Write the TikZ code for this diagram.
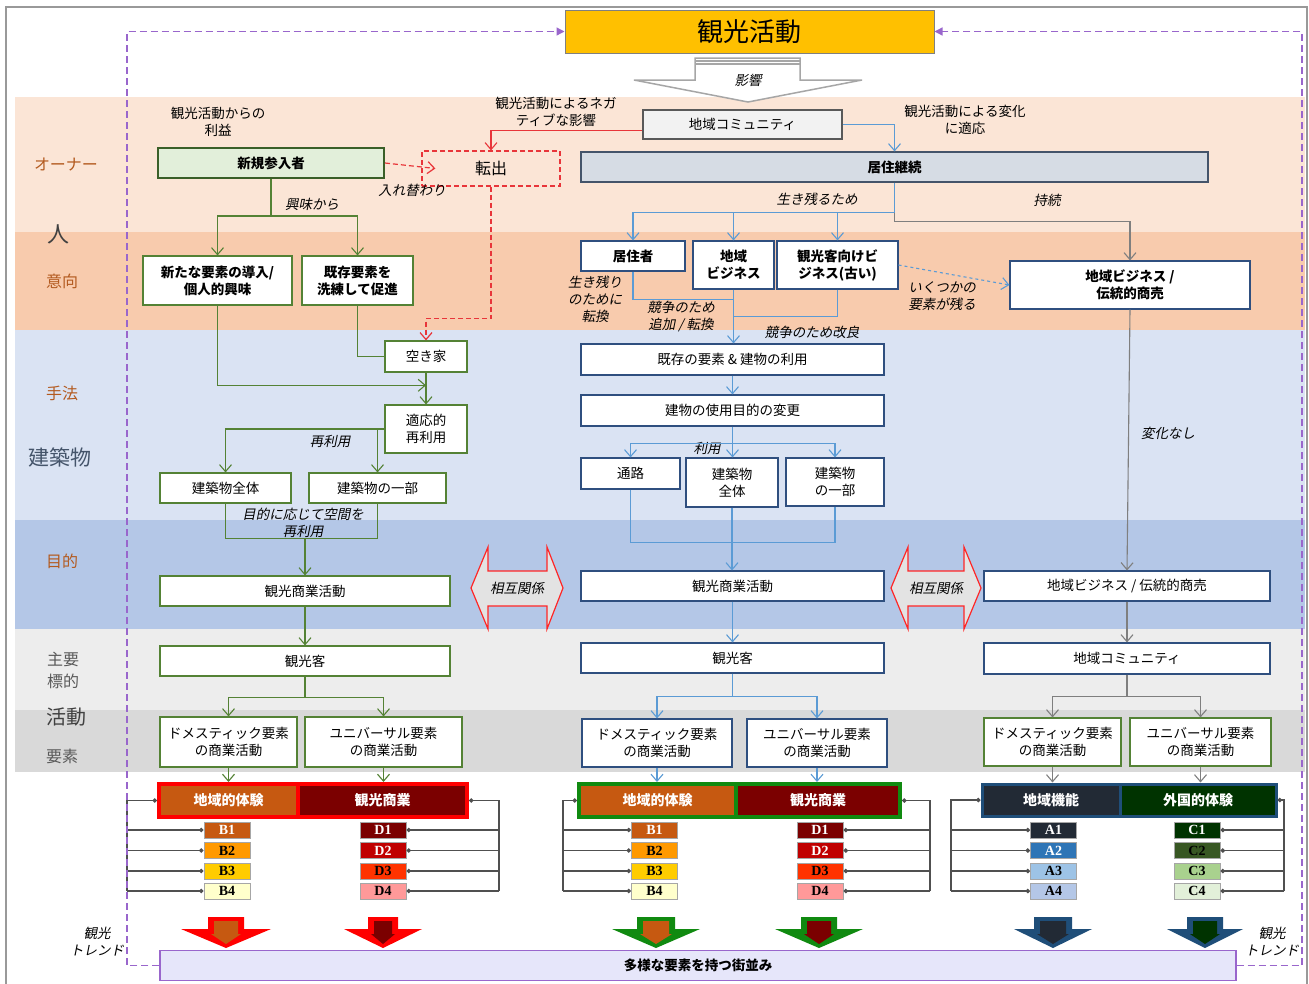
\documentclass[tikz,border=0pt]{standalone}
\usepackage{fontspec}
\setmainfont{Noto Sans CJK JP}
\newfontfamily\jpit[FakeSlant=0.2]{Noto Sans CJK JP}
\newfontfamily\lserif{Liberation Serif}
\usetikzlibrary{arrows.meta,calc}
\definecolor{cgreen}{HTML}{548235}
\definecolor{cdgreen}{HTML}{3A5F28}
\definecolor{cLgreen}{HTML}{E2EFDA}
\definecolor{cnavy}{HTML}{2F4F7F}
\definecolor{cslate}{HTML}{44546A}
\definecolor{cPale}{HTML}{D6DCE4}
\definecolor{cblue}{HTML}{5B9BD5}
\definecolor{cgray}{HTML}{7F7F7F}
\definecolor{cdgray}{HTML}{595959}
\definecolor{cdk}{HTML}{505050}
\definecolor{cred}{HTML}{E8353A}
\definecolor{cpurp}{HTML}{9966CC}
\definecolor{cgold}{HTML}{FFC000}
\definecolor{clav}{HTML}{E6E6FA}
\definecolor{cbrown}{HTML}{B35A1F}
\definecolor{cdark}{HTML}{404040}
\definecolor{bOwner}{HTML}{FBE5D6}
\definecolor{bIntent}{HTML}{F8CBAD}
\definecolor{bMethod}{HTML}{DAE3F3}
\definecolor{bPurpose}{HTML}{B4C7E7}
\definecolor{bTarget}{HTML}{EDEDED}
\definecolor{bAct}{HTML}{D9D9D9}
\definecolor{cB1}{HTML}{C65911}
\definecolor{cB2}{HTML}{FF9900}
\definecolor{cB3}{HTML}{FFCC00}
\definecolor{cB4}{HTML}{FFFFCC}
\definecolor{cD1}{HTML}{7B0000}
\definecolor{cD2}{HTML}{C00000}
\definecolor{cD3}{HTML}{FF3300}
\definecolor{cD4}{HTML}{FF9999}
\definecolor{cA1}{HTML}{222A35}
\definecolor{cA2}{HTML}{2E75B6}
\definecolor{cA3}{HTML}{9DC3E6}
\definecolor{cA4}{HTML}{B4C7E7}
\definecolor{cC1}{HTML}{003300}
\definecolor{cC2}{HTML}{385723}
\definecolor{cC3}{HTML}{A9D18E}
\definecolor{cC4}{HTML}{E2F0D9}
\definecolor{cMgreen}{HTML}{108A10}
\definecolor{cRblue}{HTML}{1F4E79}
\newcommand\bigarr[5]{%
  \fill[#2] (#1-#5,917) -- (#1+#5,917) -- (#1+#5,929) -- (#1+#4,929) -- (#1,948) -- (#1-#4,929) -- (#1-#5,929) -- cycle;
  \fill[#3] (#1-#5+6,921) -- (#1+#5-6,921) -- (#1+#5-6,934) -- (#1+#5-3,934) -- (#1,944) -- (#1-#5+3,934) -- (#1-#5+6,934) -- cycle;}
\begin{document}
\begin{tikzpicture}[x=1pt,y=-1pt,
  wh/.style 2 args={minimum width=#1pt, minimum height=#2pt},
  bx/.style={draw, fill=white, align=center, inner sep=0pt, line width=1.1pt, font=\fontsize{13.5}{17}\selectfont},
  gb/.style={bx, draw=cgreen},
  nb/.style={bx, draw=cnavy},
  bb/.style={font=\bfseries\fontsize{13.5}{17}\selectfont},
  lab/.style={align=center, inner sep=0pt, font=\fontsize{13.5}{17}\selectfont},
  itl/.style={align=center, inner sep=0pt, font=\jpit\fontsize{13.5}{17}\selectfont},
  side/.style={align=center, inner sep=0pt, font=\fontsize{16}{22}\selectfont},
  ar/.style={-{Straight Barb[length=7pt,width=12pt]}},
  gl/.style={draw=cgreen, line width=1.1pt},
  bl/.style={draw=cblue, line width=1.1pt},
  kl/.style={draw=cgray, line width=1.1pt},
  rl/.style={draw=cred, line width=1.1pt},
  rd/.style={draw=cred, line width=1.2pt, dash pattern=on 5pt off 3pt},
  pd/.style={draw=cpurp, line width=1.3pt, dash pattern=on 7pt off 4pt},
  lbx/.style={draw=gray!70, line width=1pt, minimum width=46pt, minimum height=16pt, inner sep=0pt, font=\lserif\bfseries\fontsize{14}{14}\selectfont},
  brk/.style={draw=cdk, line width=1.1pt},
  hd/.style={inner sep=0pt, line width=4pt, text=white, font=\bfseries\fontsize{14}{14}\selectfont},
  mut/.style={draw=red!85, fill=gray!22, line width=1.2pt}
]
\useasboundingbox (0,0) rectangle (1309,983);
\fill[white] (0,0) rectangle (1309,983);
% bands
\fill[bOwner] (15,97) rectangle (1305,232);
\fill[bIntent] (15,232) rectangle (1305,330);
\fill[bMethod] (15,330) rectangle (1305,520);
\fill[bPurpose] (15,520) rectangle (1305,629);
\fill[bTarget] (15,629) rectangle (1305,710);
\fill[bAct] (15,710) rectangle (1305,772);
\draw[gray!80, line width=1.5pt] (6,995) -- (6,7) -- (1307,7) -- (1307,995);

% side labels
\node[side, text=cbrown] (sOwner) at (66,165) {オーナー};
\node[side, text=cdark, font=\fontsize{22}{22}\selectfont] (sPerson) at (58,234) {人};
\node[side, text=cbrown] (sIntent) at (62,281) {意向};
\node[side, text=cbrown] (sMethod) at (62,393) {手法};
\node[side, text=cslate, font=\fontsize{21}{21}\selectfont] (sBuild) at (60,457) {建築物};
\node[side, text=cbrown] (sPurp) at (62,561) {目的};
\node[side, text=cdgray] (sTarget) at (63,670) {主要\\標的};
\node[side, text=cdark, font=\fontsize{20}{20}\selectfont] (sAct) at (66,717) {活動};
\node[side, text=cdgray] (sElem) at (62,756) {要素};

% title and influence arrow
\node[draw=gray, fill=cgold, wh={369}{43}, line width=1pt, font=\fontsize{26}{26}\selectfont, inner sep=0pt] (title) at (749.5,31.5) {観光活動};
\draw[fill=white, draw=gray!70, line width=1.5pt] (695,58) -- (800,58) -- (800,80) -- (862,80) -- (748,102) -- (634,80) -- (695,80) -- cycle;
\draw[gray!70, line width=1.5pt] (695,61) -- (800,61) (695,64) -- (800,64);
\node[itl] (eikyo) at (748,80) {影響};

% owner row
\node[lab] (lBenefit) at (218,122) {観光活動からの\\利益};
\node[bx, bb, fill=cLgreen, draw=cdgreen, line width=2pt, wh={226}{30}] (xin) at (271,163) {新規参入者};
\node[lab, wh={138}{35}, draw=cred, line width=1.2pt, dash pattern=on 5pt off 3pt, font=\fontsize{16}{16}\selectfont] (zhuan) at (491,168.5) {転出};
\node[lab] (lNeg) at (556,112) {観光活動によるネガ\\ティブな影響};
\node[bx, draw=cdgray, fill=gray!10, wh={199}{29}] (comm) at (742.5,124.5) {地域コミュニティ};
\node[lab] (lAdapt) at (965,120) {観光活動による変化\\に適応};
\node[bx, bb, draw=cslate, fill=cPale, wh={627}{30}] (cont) at (894.5,167) {居住継続};
\node[itl] (lSwap) at (412,190) {入れ替わり};
\node[itl] (lInterest) at (312,204) {興味から};
\node[itl] (lSurvive) at (817,199) {生き残るため};
\node[itl] (lSustain) at (1047,200) {持続};

% intention row
\node[gb, bb, wh={149}{49}] (n1) at (217.5,280.5) {新たな要素の導入/\\個人的興味};
\node[gb, bb, wh={111}{49}] (n2) at (357.5,280.5) {既存要素を\\洗練して促進};
\node[nb, bb, wh={104}{30}] (r1) at (633,256) {居住者};
\node[nb, bb, wh={81}{48}] (r2) at (733.5,265) {地域\\ビジネス};
\node[nb, bb, wh={121}{48}] (r3) at (837.5,265) {観光客向けビ\\ジネス(古い)};
\node[nb, bb, wh={240}{48}] (r4) at (1130,285) {地域ビジネス /\\伝統的商売};
\node[itl] (lConv) at (595,299) {生き残り\\のために\\転換};
\node[itl] (lComp) at (681,317) {競争のため\\追加 / 転換};
\node[itl] (lImprove) at (812,332) {競争のため改良};
\node[itl] (lRemain) at (942,296) {いくつかの\\要素が残る};

% method / building
\node[gb, wh={82}{31}] (akiya) at (426,356.5) {空き家};
\node[gb, wh={82}{48}] (tekio) at (426,429) {適応的\\再利用};
\node[gb, wh={131}{30}] (zentai) at (225.5,488) {建築物全体};
\node[gb, wh={137}{30}] (ichibu) at (377.5,488) {建築物の一部};
\node[itl] (lReuse) at (330,441) {再利用};
\node[itl] (lReuse2) at (303,523) {目的に応じて空間を\\再利用};
\node[nb, wh={303}{31}] (kizon) at (732.5,359.5) {既存の要素 \& 建物の利用};
\node[nb, wh={303}{31}] (henkou) at (732.5,410.5) {建物の使用目的の変更};
\node[nb, wh={99}{31}] (tsuro) at (630.5,473.5) {通路};
\node[nb, wh={92}{49}] (zentai2) at (732,482.5) {建築物\\全体};
\node[nb, wh={98}{48}] (ichibu2) at (835,482) {建築物\\の一部};
\node[itl] (lUse) at (707,448) {利用};
\node[itl] (lNoChange) at (1168,433) {変化なし};

% purpose
\node[gb, wh={290}{30}] (sho1) at (305,591) {観光商業活動};
\node[nb, wh={303}{30}] (sho2) at (732.5,586) {観光商業活動};
\node[nb, wh={286}{30}] (biz3) at (1127,586) {地域ビジネス / 伝統的商売};
\draw[mut] (471,588) -- (488,547) -- (488,571) -- (547,571) -- (547,547) -- (563,588) -- (547,629) -- (547,606) -- (488,606) -- (488,629) -- cycle;
\node[itl] (mut1) at (517,588) {相互関係};
\draw[mut] (891,588) -- (908,547) -- (908,571) -- (964,571) -- (964,547) -- (981,588) -- (964,629) -- (964,606) -- (908,606) -- (908,629) -- cycle;
\node[itl] (mut2) at (936,588) {相互関係};

% target
\node[gb, wh={290}{30}] (kk1) at (305,661) {観光客};
\node[nb, wh={303}{30}] (kk2) at (732.5,658) {観光客};
\node[nb, wh={286}{31}] (comm3) at (1127,658.5) {地域コミュニティ};

% activity elements
\node[gb, wh={137}{50}] (d1) at (228.5,742) {ドメスティック要素\\の商業活動};
\node[gb, wh={157}{50}] (u1) at (383.5,742) {ユニバーサル要素\\の商業活動};
\node[nb, wh={150}{48}] (d2) at (657,743) {ドメスティック要素\\の商業活動};
\node[nb, wh={140}{48}] (u2) at (817,743) {ユニバーサル要素\\の商業活動};
\node[gb, wh={137}{48}] (d3) at (1052.5,742) {ドメスティック要素\\の商業活動};
\node[gb, wh={141}{48}] (u3) at (1200.5,742) {ユニバーサル要素\\の商業活動};

% headers
\node[hd, draw=red, fill=cB1, wh={139}{33}] (hL1) at (228.5,800.5) {地域的体験};
\node[hd, draw=red, fill=cD1, wh={169}{33}] (hL2) at (382.5,800.5) {観光商業};
\node[hd, draw=cMgreen, fill=cB1, wh={157}{33}] (hM1) at (657.5,800.5) {地域的体験};
\node[hd, draw=cMgreen, fill=cD1, wh={164}{33}] (hM2) at (818,800.5) {観光商業};
\node[hd, draw=cRblue, line width=3pt, fill=cA1, wh={138}{32}] (hR1) at (1051,800) {地域機能};
\node[hd, draw=cRblue, line width=3pt, fill=cC1, wh={156}{32}] (hR2) at (1198,800) {外国的体験};

% lists
\foreach \i/\yy/\fa/\ta/\fc/\tc in {1/830/cB1/white/cD1/white, 2/850.5/cB2/black/cD2/white, 3/871/cB3/black/cD3/black, 4/891/cB4/black/cD4/black}{
  \node[lbx, fill=\fa, text=\ta] (LB\i) at (227,\yy) {B\i};
  \node[lbx, fill=\fc, text=\tc] (LD\i) at (383,\yy) {D\i};
  \draw[brk, -{Circle[length=4.5pt]}] (127,\yy) -- (LB\i.west);
  \draw[brk, -{Circle[length=4.5pt]}] (499,\yy) -- (LD\i.east);
  \node[lbx, fill=\fa, text=\ta] (MB\i) at (654.5,\yy) {B\i};
  \node[lbx, fill=\fc, text=\tc] (MD\i) at (820,\yy) {D\i};
  \draw[brk, -{Circle[length=4.5pt]}] (563,\yy) -- (MB\i.west);
  \draw[brk, -{Circle[length=4.5pt]}] (930,\yy) -- (MD\i.east);
}
\foreach \i/\yy/\fa/\ta/\fc/\tc in {1/830/cA1/white/cC1/white, 2/850.5/cA2/white/cC2/black, 3/871/cA3/black/cC3/black, 4/891/cA4/black/cC4/black}{
  \node[lbx, fill=\fa, text=\ta] (RA\i) at (1053.5,\yy) {A\i};
  \node[lbx, fill=\fc, text=\tc] (RC\i) at (1197,\yy) {C\i};
  \draw[brk, -{Circle[length=4.5pt]}] (951,\yy) -- (RA\i.west);
  \draw[brk, -{Circle[length=4.5pt]}] (1284,\yy) -- (RC\i.east);
}
\draw[brk, {Circle[length=4.5pt]}-] (hL1.west) -- (127,800.5) -- (127,891);
\draw[brk, {Circle[length=4.5pt]}-] (hL2.east) -- (499,800.5) -- (499,891);
\draw[brk, {Circle[length=4.5pt]}-] (hM1.west) -- (563,800.5) -- (563,891);
\draw[brk, {Circle[length=4.5pt]}-] (hM2.east) -- (930,800.5) -- (930,891);
\draw[brk, {Circle[length=4.5pt]}-] (hR1.west) -- (951,800) -- (951,891);
\draw[brk, {Circle[length=4.5pt]}-] (hR2.east) -- (1284,800) -- (1284,891);

% big arrows
\bigarr{226}{red}{cB1}{45}{18}
\bigarr{383}{red}{cD1}{39}{15}
\bigarr{656}{cMgreen}{cB1}{44}{19}
\bigarr{819}{cMgreen}{cD1}{44}{18}
\bigarr{1053}{cRblue}{cA1}{39}{19}
\bigarr{1205}{cRblue}{cC1}{38}{18}

% bottom
\node[draw=cpurp, fill=clav, line width=1.2pt, wh={1076}{30}, inner sep=0pt, font=\bfseries\fontsize{13.5}{13.5}\selectfont] (bot) at (698,965.5) {多様な要素を持つ街並み};
\node[itl] (lTrendL) at (97,942) {観光\\トレンド};
\node[itl] (lTrendR) at (1272,942) {観光\\トレンド};

% purple dashed loop
\coordinate (pl) at (127,0);
\coordinate (pr) at (1302,0);
\draw[pd, -{Triangle[length=8pt,width=8pt]}] (bot.west) -| (pl |- title.west) -- (title.west);
\draw[pd, -{Triangle[length=8pt,width=8pt]}] (bot.east) -| (pr |- title.east) -- (title.east);

% green connectors
\draw[gl, ar] (xin.south) -- ++(0,37) -| (n1.north);
\draw[gl, ar] (xin.south) -- ++(0,37) -| (n2.north);
\draw[gl] (n2.south) |- (akiya.west);
\draw[gl, ar] (n1.south) |- ($(akiya.south)!0.4!(tekio.north)$);
\draw[gl, ar] (akiya.south) -- (tekio.north);
\draw[gl, ar] (tekio.west) -| (zentai.north);
\draw[gl, ar] (ichibu.north |- tekio.west) -- (ichibu.north);
\draw[gl] (zentai.south) -- ++(0,35) coordinate (jz) -| (ichibu.south);
\draw[gl, ar] (jz -| sho1.north) -- (sho1.north);
\draw[gl, ar] (sho1.south) -- (kk1.north);
\draw[gl, ar] (kk1.south) -- ++(0,21) -| (d1.north);
\draw[gl, ar] (kk1.south) -- ++(0,21) -| (u1.north);
\draw[gl, ar] (d1.south) -- (d1.south |- hL1.north);
\draw[gl, ar] (u1.south) -- (u1.south |- hL2.north);

% red connectors
\draw[rl, ar] ($(comm.west)+(0,6)$) -| (zhuan.north);
\draw[rd, ar] (xin.east) -- ($(zhuan.west)+(14,0)$);
\draw[rd, ar] (zhuan.south) -- ++(0,132) -| (akiya.north);

% blue connectors
\draw[bl, ar] (comm.east) -| (cont.north);
\draw[bl, ar] (cont.south) -- ++(0,30) coordinate (jc) -| (r1.north);
\draw[bl, ar] (r2.north |- jc) -- (r2.north);
\draw[bl, ar] (r3.north |- jc) -- (r3.north);
\draw[kl, ar] (jc) -- ++(0,9) -| (r4.north);
\draw[bl] (r1.south) -- ++(0,28) -| (r2.south);
\draw[bl] (r3.south) -- ++(0,27) -| (r2.south);
\draw[bl, ar] (r2.south) -- (r2.south |- kizon.north);
\draw[bl, dashed, ar] (r3.east) -- (r4.west);
\draw[bl, ar] (kizon.south) -- (henkou.north);
\draw[bl, ar] (henkou.south) -- ++(0,17) coordinate (jh) -| (tsuro.north);
\draw[bl, ar] (jh) -| (ichibu2.north);
\draw[bl, ar] (jh) -- (jh |- zentai2.north);
\draw[bl] (tsuro.south) -- ++(0,53) -| (ichibu2.south);
\draw[bl, ar] (zentai2.south) -- (zentai2.south |- sho2.north);
\draw[bl, ar] (sho2.south) -- (kk2.north);
\draw[bl, ar] (kk2.south) -- ++(0,23) -| (d2.north);
\draw[bl, ar] (kk2.south) -- ++(0,23) -| (u2.north);
\draw[bl, ar] (d2.south) -- (d2.south |- hM1.north);
\draw[bl, ar] (u2.south) -- (u2.south |- hM2.north);

% gray connectors
\draw[kl, ar] (r4.south) -- (biz3.north);
\draw[kl, ar] (biz3.south) -- (comm3.north);
\draw[kl, ar] (comm3.south) -- ++(0,22) -| (d3.north);
\draw[kl, ar] (comm3.south) -- ++(0,22) -| (u3.north);
\draw[kl, ar] (d3.south) -- (d3.south |- hR1.north);
\draw[kl, ar] (u3.south) -- (u3.south |- hR2.north);
\end{tikzpicture}
\end{document}
